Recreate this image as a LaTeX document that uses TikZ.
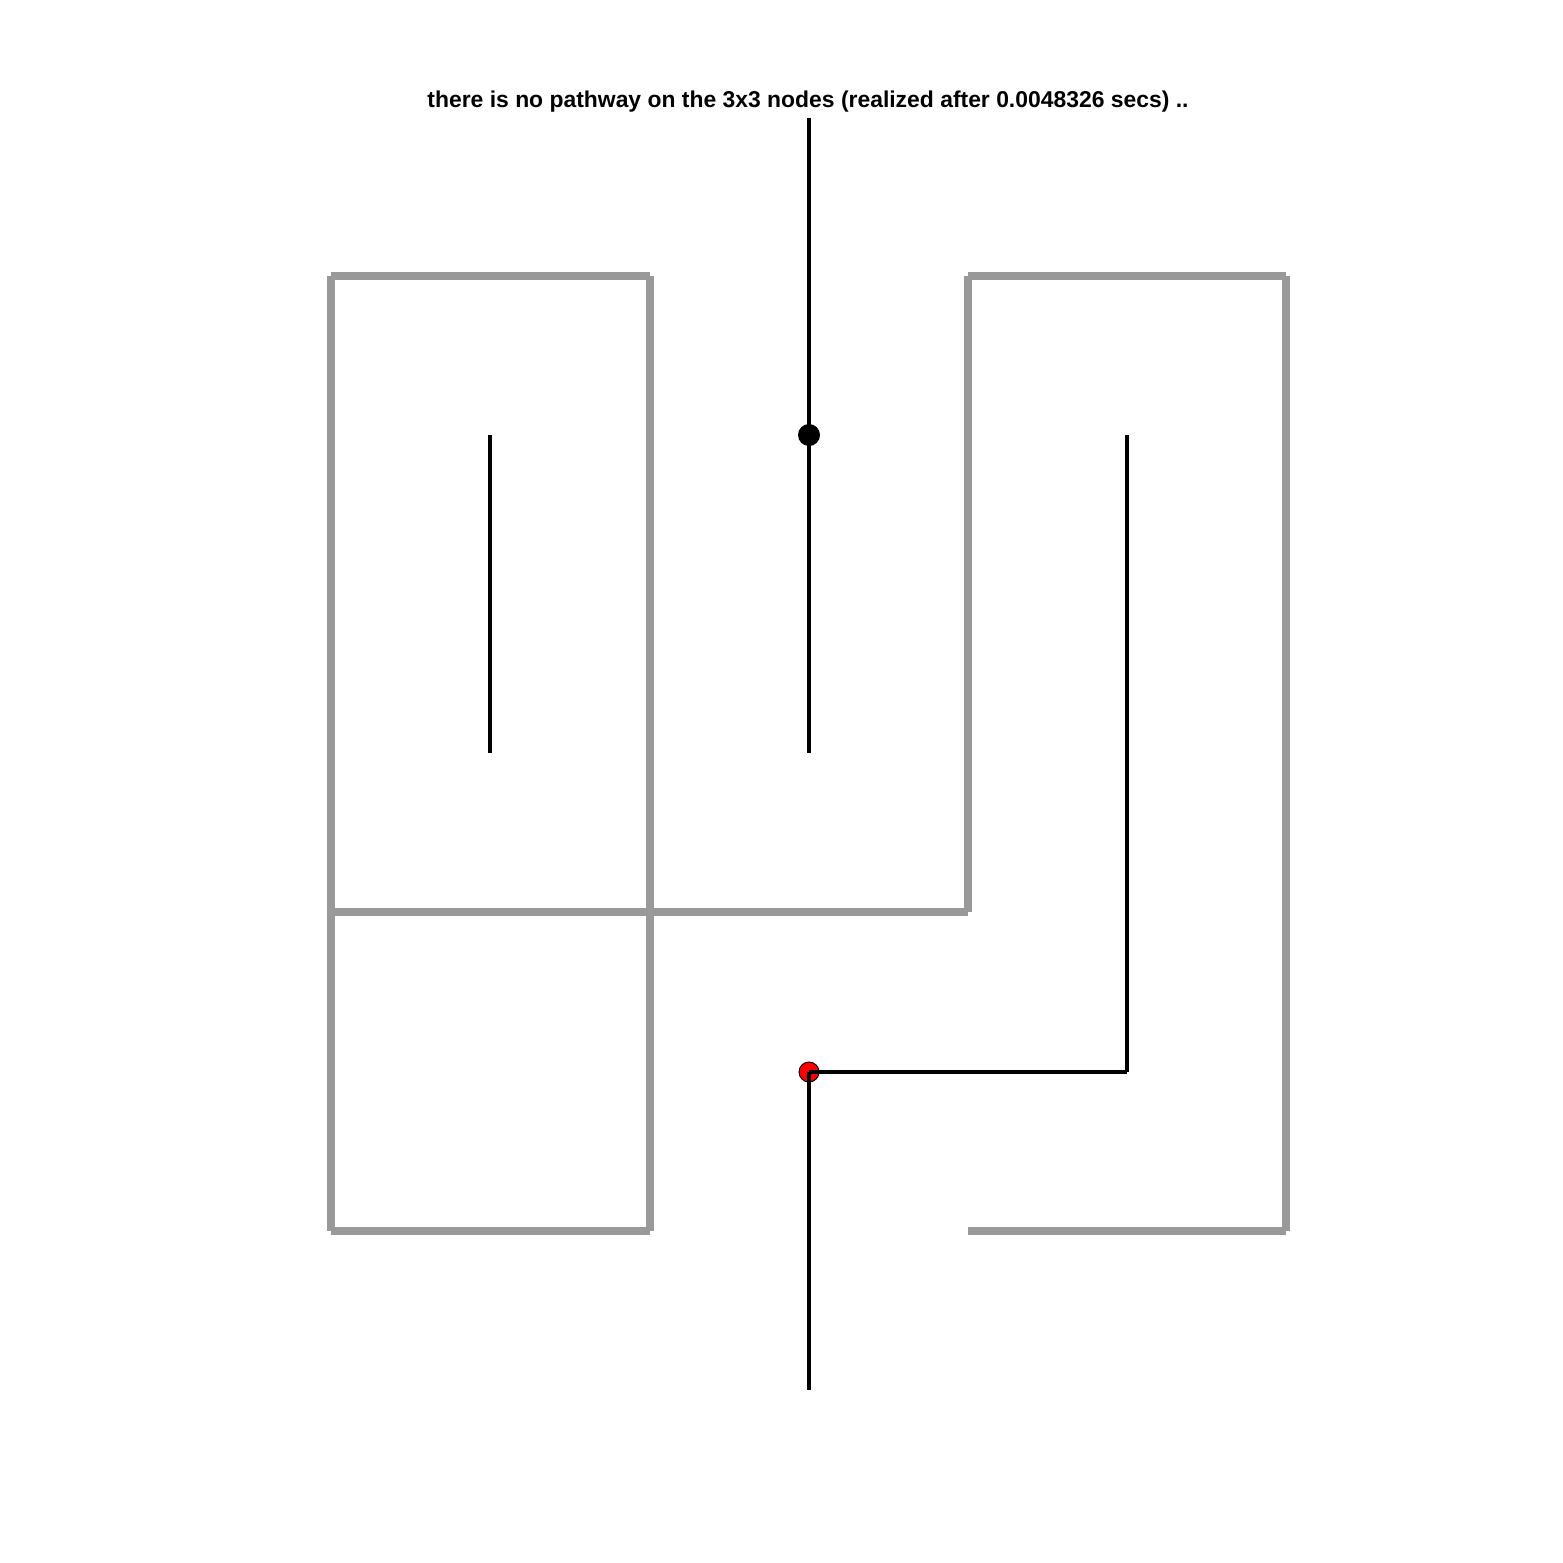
\documentclass[tikz,border=0pt]{standalone}
\usepackage{fontspec}
\setmainfont{Liberation Sans}
\usetikzlibrary{positioning}

\begin{document}
\begin{tikzpicture}[
    x=1pt, y=-1pt,
    wall/.style={draw=black!40, line width=8.5pt},
    pathway/.style={draw=black, line width=3.5pt},
    startdot/.style={circle, fill=black, minimum size=22pt, inner sep=0pt},
    goaldot/.style={circle, draw=black, line width=1pt, fill=red, minimum size=20pt, inner sep=0pt},
    caption/.style={font=\fontsize{22.9}{27}\selectfont\bfseries}
]
    \useasboundingbox (0,0) rectangle (1563,1563);

    % Title
    \node[caption] (title) at (808,102) {there is no pathway on the 3x3 nodes (realized after 0.0048326 secs) ..};

    % Nodes (cell centres)
    \foreach \c/\x in {1/490, 2/809, 3/1127}
        \foreach \r/\y in {1/435, 2/753, 3/1072}
            \coordinate (n\r\c) at (\x,\y);
    \coordinate (entry) at (809,118);
    \coordinate (exit) at (809,1390);

    % Walls
    \draw[wall] (331,276) -- (650,276);
    \draw[wall] (968,276) -- (1286,276);
    \draw[wall] (331,276) -- (331,912);
    \draw[wall] (331,912) -- (331,1231);
    \draw[wall] (650,276) -- (650,912);
    \draw[wall] (650,912) -- (650,1231);
    \draw[wall] (968,276) -- (968,912);
    \draw[wall] (1286,276) -- (1286,1231);
    \draw[wall] (331,912) -- (650,912);
    \draw[wall] (650,912) -- (968,912);
    \draw[wall] (331,1231) -- (650,1231);
    \draw[wall] (968,1231) -- (1286,1231);

    % Goal marker
    \node[goaldot] (goal) at (n32) {};

    % Pathways
    \draw[pathway] (entry) -- (n12);
    \draw[pathway] (n12) -- (n22);
    \draw[pathway] (n11) -- (n21);
    \draw[pathway] (n13) -- (n33);
    \draw[pathway] (n32) -- (n33);
    \draw[pathway] (n32) -- (exit);

    % Start marker
    \node[startdot] (start) at (n12) {};
\end{tikzpicture}
\end{document}
